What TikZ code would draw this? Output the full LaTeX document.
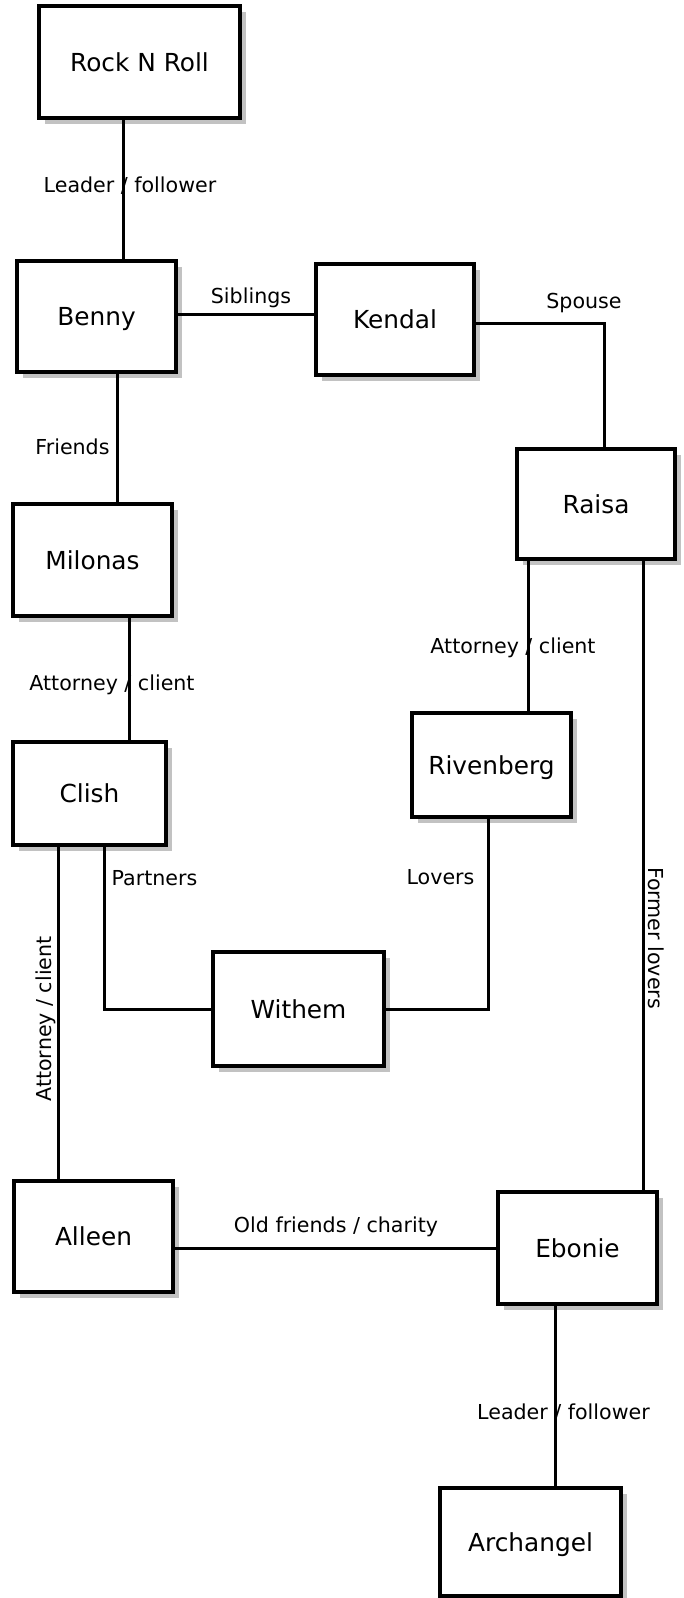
\documentclass[tikz,border=0pt]{standalone}
\usepackage{fontspec}
\setmainfont{DejaVu Sans}
\usetikzlibrary{shadows}
\begin{document}
\begin{tikzpicture}[x=1pt,y=-1pt,
  box/.style={draw=black, line width=3.1pt, fill=white, inner sep=0pt,
    general shadow={fill=black!24, shadow xshift=6pt, shadow yshift=-6pt},
    font=\fontsize{24.8}{29}\selectfont, text depth=0pt},
  conn/.style={draw=black, line width=3pt},
  lbl/.style={inner sep=0pt, font=\fontsize{20.6}{24}\selectfont}]
\useasboundingbox (0,0) rectangle (683,1598);
% boxes
\node[box, minimum width=201pt, minimum height=112pt] (rock) at (139.5,62) {Rock N Roll};
\node[box, minimum width=159pt, minimum height=111pt] (benny) at (96.5,316.5) {Benny};
\node[box, minimum width=158pt, minimum height=111pt] (kendal) at (395,319.5) {Kendal};
\node[box, minimum width=158pt, minimum height=110pt] (raisa) at (596,504) {Raisa};
\node[box, minimum width=159pt, minimum height=112pt] (milonas) at (92.5,560) {Milonas};
\node[box, minimum width=159pt, minimum height=104pt] (riv) at (491.5,765) {Rivenberg};
\node[box, minimum width=153pt, minimum height=103pt] (clish) at (89.5,793.5) {Clish};
\node[box, minimum width=171pt, minimum height=114pt] (withem) at (298.5,1009) {Withem};
\node[box, minimum width=159pt, minimum height=111pt] (alleen) at (93.5,1236.5) {Alleen};
\node[box, minimum width=159pt, minimum height=112pt] (ebonie) at (577.5,1248) {Ebonie};
\node[box, minimum width=181pt, minimum height=108pt] (arch) at (530.5,1542) {Archangel};
% connector anchor points
\coordinate (c1) at ([xshift=-16.5pt]rock.south);
\coordinate (c2) at ([yshift=2.5pt]benny.east);
\coordinate (c3) at ([yshift=-3.5pt]kendal.east);
\coordinate (c4) at ([xshift=8pt]raisa.north);
\coordinate (c5) at ([xshift=20.5pt]benny.south);
\coordinate (c6) at ([xshift=36.5pt]milonas.south);
\coordinate (c7) at ([xshift=-68pt]raisa.south);
\coordinate (c8) at ([xshift=47pt]raisa.south);
\coordinate (c9) at ([xshift=-3.5pt]riv.south);
\coordinate (c10) at ([xshift=14.5pt]clish.south);
\coordinate (c11) at ([xshift=-31.5pt]clish.south);
\coordinate (c12) at ([xshift=-22.5pt]ebonie.south);
% connectors
\draw[conn] (c1) -- (c1 |- benny.north);
\draw[conn] (c2) -- (c2 -| kendal.west);
\draw[conn] (c3) -| (c4);
\draw[conn] (c5) -- (c5 |- milonas.north);
\draw[conn] (c6) -- (c6 |- clish.north);
\draw[conn] (c7) -- (c7 |- riv.north);
\draw[conn] (c8) -- (c8 |- ebonie.north);
\draw[conn] (c9) |- (withem.east);
\draw[conn] (c10) |- (withem.west);
\draw[conn] (c11) -- (c11 |- alleen.north);
\draw[conn] (alleen.east |- ebonie.west) -- (ebonie.west);
\draw[conn] (c12) -- (c12 |- arch.north);
% labels
\node[lbl] (l1) at (130,185.5) {Leader / follower};
\node[lbl] (l2) at (251,298) {Siblings};
\node[lbl] (l3) at (584,303) {Spouse};
\node[lbl] (l4) at (72.5,447) {Friends};
\node[lbl] (l5) at (112,685) {Attorney / client};
\node[lbl] (l6) at (513,648) {Attorney / client};
\node[lbl, rotate=-90] (l7) at (656,938) {Former lovers};
\node[lbl] (l8) at (440.5,877) {Lovers};
\node[lbl] (l9) at (154.5,878) {Partners};
\node[lbl, rotate=90] (l10) at (46,1019) {Attorney / client};
\node[lbl] (l11) at (336,1227) {Old friends / charity};
\node[lbl] (l12) at (563.5,1413) {Leader / follower};
\end{tikzpicture}
\end{document}
